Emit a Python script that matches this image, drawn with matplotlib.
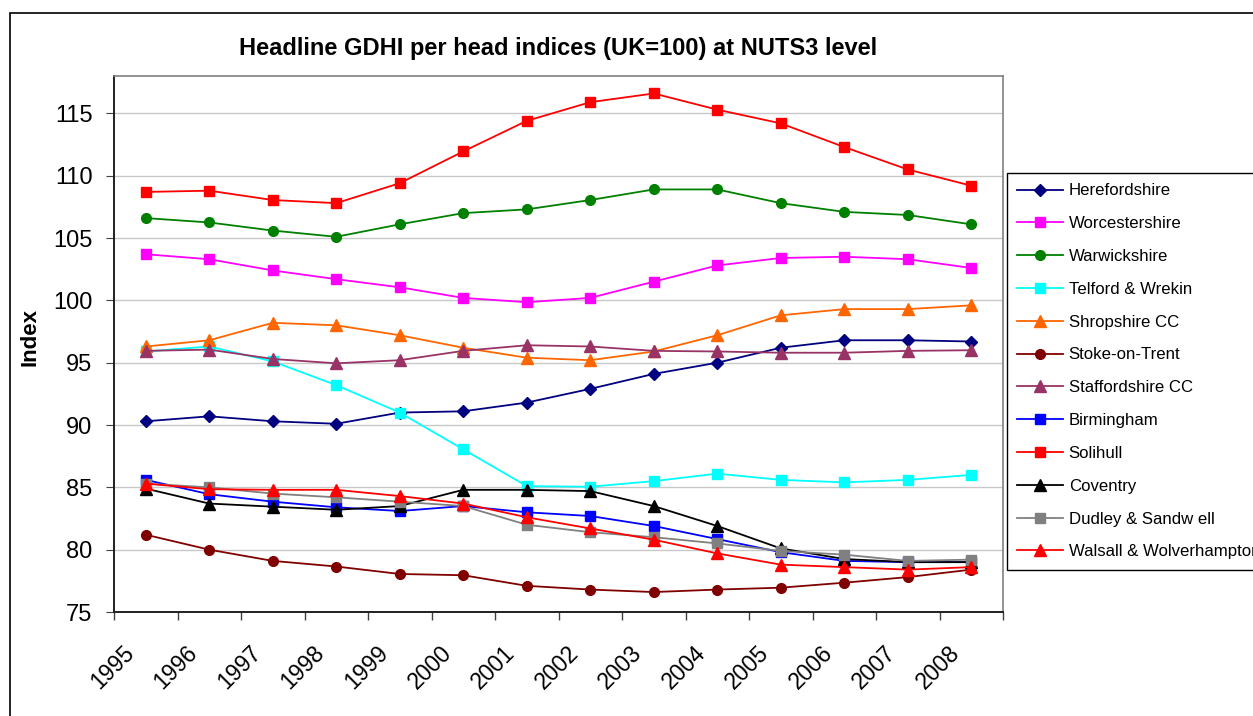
import matplotlib
matplotlib.use("Agg")
import matplotlib.pyplot as plt
from matplotlib.patches import Rectangle
from matplotlib.ticker import FixedLocator
from matplotlib.transforms import ScaledTranslation

plt.rcParams['font.family'] = ['Liberation Sans', 'DejaVu Sans']

years = [str(y) for y in range(1995, 2009)]

herefordshire = [90.3, 90.7, 90.3, 90.1, 91.0, 91.1, 91.8, 92.9, 94.1, 95.0, 96.2, 96.8, 96.8, 96.7]
worcestershire = [103.7, 103.3, 102.4, 101.7, 101.05, 100.2, 99.85, 100.2, 101.5, 102.8, 103.4, 103.5, 103.3, 102.6]
warwickshire = [106.6, 106.25, 105.6, 105.1, 106.1, 107.0, 107.3, 108.05, 108.9, 108.9, 107.8, 107.1, 106.85, 106.1]
telford = [95.9, 96.3, 95.1, 93.2, 91.0, 88.05, 85.1, 85.05, 85.5, 86.1, 85.6, 85.4, 85.6, 86.0]
shropshire = [96.3, 96.8, 98.2, 98.0, 97.2, 96.2, 95.4, 95.2, 95.9, 97.2, 98.8, 99.3, 99.3, 99.6]
stoke = [81.2, 80.0, 79.1, 78.65, 78.05, 77.95, 77.1, 76.8, 76.6, 76.8, 76.95, 77.35, 77.8, 78.4]
staffordshire = [95.95, 96.05, 95.3, 94.95, 95.2, 95.95, 96.4, 96.3, 95.95, 95.9, 95.8, 95.8, 95.95, 96.0]
birmingham = [85.6, 84.45, 83.85, 83.4, 83.1, 83.5, 83.0, 82.7, 81.9, 80.85, 79.8, 79.1, 79.0, 79.0]
solihull = [108.7, 108.8, 108.05, 107.8, 109.4, 111.95, 114.4, 115.9, 116.6, 115.3, 114.2, 112.3, 110.5, 109.2]
coventry = [84.9, 83.7, 83.45, 83.2, 83.5, 84.8, 84.8, 84.7, 83.5, 81.9, 80.1, 79.25, 79.0, 79.0]
dudley = [85.3, 85.0, 84.5, 84.2, 83.85, 83.5, 82.0, 81.4, 81.0, 80.5, 79.9, 79.6, 79.1, 79.2]
walsall = [85.3, 84.85, 84.8, 84.8, 84.3, 83.7, 82.6, 81.7, 80.8, 79.7, 78.8, 78.6, 78.4, 78.6]

series = [
    ("Herefordshire", herefordshire, "#000080", "D", 6.5),
    ("Worcestershire", worcestershire, "#FF00FF", "s", 6.5),
    ("Warwickshire", warwickshire, "#008000", "o", 7),
    ("Telford & Wrekin", telford, "#00FFFF", "s", 6.5),
    ("Shropshire CC", shropshire, "#FF6600", "^", 8),
    ("Stoke-on-Trent", stoke, "#800000", "o", 7),
    ("Staffordshire CC", staffordshire, "#993366", "^", 8),
    ("Birmingham", birmingham, "#0000FF", "s", 6.5),
    ("Solihull", solihull, "#FF0000", "s", 6.5),
    ("Coventry", coventry, "#000000", "^", 8),
    ("Dudley & Sandw ell", dudley, "#808080", "s", 6.5),
    ("Walsall & Wolverhampton", walsall, "#FF0000", "^", 8),
]

W, H = 1253, 716
fig = plt.figure(figsize=(W / 100, H / 100), dpi=100)

# outer chart border
fig.patches.append(Rectangle((10 / W, -0.1), 1.2, 1 - 13 / H + 0.1, transform=fig.transFigure,
                             fill=False, edgecolor='black', linewidth=1.2))

ax = fig.add_axes([114 / W, 1 - 612 / H, (1003 - 114) / W, (612 - 76) / H])

x = list(range(len(years)))
for name, vals, col, mk, ms in series:
    ax.plot(x, vals, color=col, marker=mk, markersize=ms, linewidth=1.3, label=name,
            markeredgecolor=col, clip_on=False)

ax.set_xlim(-0.5, len(years) - 0.5)
ax.set_ylim(75, 118)
ax.set_yticks(range(75, 116, 5))
ax.yaxis.grid(True, color='#C8C8C8', linewidth=1)
ax.set_axisbelow(True)

ax.set_xticks(x)
ax.set_xticklabels(years, rotation=45, ha='right', va='top', fontsize=16.5)
ax.tick_params(axis='x', which='major', length=0, pad=21)
offset = ScaledTranslation(-7 / 100, 0, fig.dpi_scale_trans)
for lab in ax.get_xticklabels():
    lab.set_transform(lab.get_transform() + offset)
ax.xaxis.set_minor_locator(FixedLocator([i - 0.5 for i in range(len(years) + 1)]))
ax.tick_params(axis='x', which='minor', length=5.5, direction='out', width=1, color='#404040')
ax.tick_params(axis='y', length=5.5, direction='out', labelsize=17, pad=10, color='#404040')

for s in ['top', 'right']:
    ax.spines[s].set_color('#808080')
    ax.spines[s].set_linewidth(1.2)
for s in ['left', 'bottom']:
    ax.spines[s].set_color('#202020')
    ax.spines[s].set_linewidth(1.4)

ax.set_ylabel("Index", fontsize=16, fontweight='bold')
ax.yaxis.set_label_coords(-0.083, 0.513)

fig.text(558 / W, 1 - 49 / H, "Headline GDHI per head indices (UK=100) at NUTS3 level",
         ha='center', va='center', fontsize=17, fontweight='bold')

leg = fig.legend(loc='upper left', bbox_to_anchor=(1007 / W, 1 - 173 / H), fontsize=12.1,
                 frameon=True, fancybox=False, edgecolor='black', framealpha=1,
                 handlelength=2.7, handletextpad=0.35, labelspacing=1.06, borderpad=0.62,
                 borderaxespad=0)
leg.get_frame().set_linewidth(1.0)

fig.savefig("out.png", dpi=100)
